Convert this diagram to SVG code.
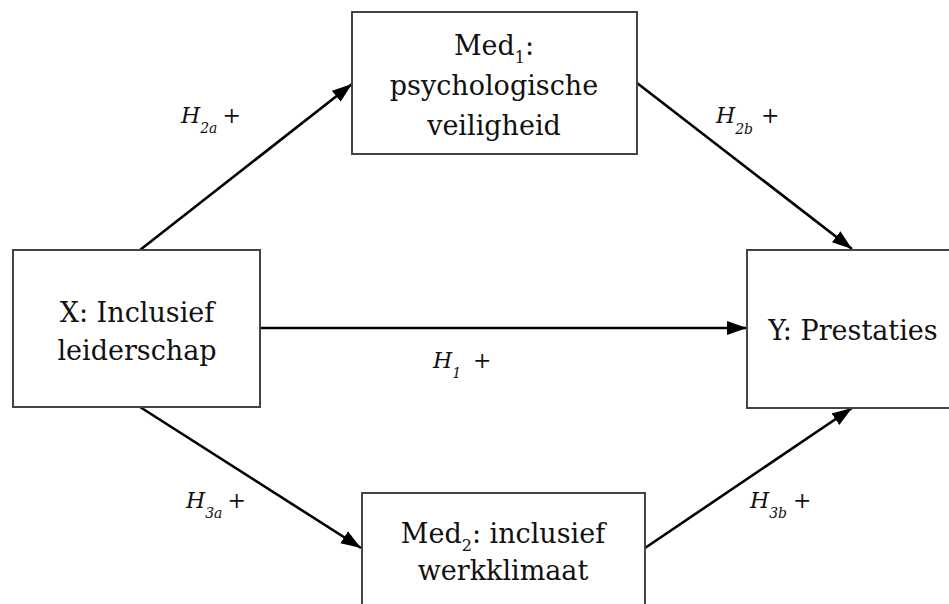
<svg xmlns="http://www.w3.org/2000/svg" width="949" height="604" viewBox="0 0 949 604">
<defs>
<style>
.box{fill:#fff;stroke:#444;stroke-width:2}
text{font-family:'DejaVu Serif',serif}
.t{font-size:27px;fill:#111;text-anchor:middle}
.sub{font-size:16px}
.h{font-size:22px;fill:#111;font-style:italic}
.hs{font-size:14px}
.p{font-style:normal;font-size:22px}
.c{stroke:#000;stroke-width:2.6;fill:none;marker-end:url(#ah)}
</style>
<marker id="ah" markerUnits="userSpaceOnUse" markerWidth="22" markerHeight="16" refX="20" refY="7" orient="auto" viewBox="0 0 22 14">
<path d="M0,0 L20,7 L0,14 Z" fill="#000"/>
</marker>
</defs>
<rect width="949" height="604" fill="#fff"/>
<g id="connectors">
<line class="c" x1="140" y1="250" x2="352" y2="84"/>
<line class="c" x1="637" y1="83" x2="852" y2="249"/>
<line class="c" x1="260" y1="328" x2="747" y2="328"/>
<line class="c" x1="140" y1="407" x2="361" y2="548"/>
<line class="c" x1="645" y1="548" x2="852" y2="408"/>
</g>
<g id="med1">
<rect class="box" x="352" y="12" width="285" height="142"/>
<text class="t" x="494" y="55">Med<tspan class="sub" dy="8">1</tspan><tspan dy="-8">:</tspan></text>
<text class="t" x="494" y="95">psychologische</text>
<text class="t" x="494" y="135">veiligheid</text>
</g>
<g id="x">
<rect class="box" x="13" y="250" width="247" height="157"/>
<text class="t" x="137" y="322">X: Inclusief</text>
<text class="t" x="137" y="360">leiderschap</text>
</g>
<g id="y">
<rect class="box" x="747" y="250" width="215" height="158"/>
<text class="t" x="853" y="340">Y: Prestaties</text>
</g>
<g id="med2">
<rect class="box" x="362" y="493" width="283" height="130"/>
<text class="t" x="503" y="543">Med<tspan class="sub" dy="8">2</tspan><tspan dy="-8">: inclusief</tspan></text>
<text class="t" x="503" y="580">werkklimaat</text>
</g>
<g id="labels">
<text class="h" x="181" y="123">H<tspan class="hs" dy="10">2a</tspan><tspan class="p" dx="5" dy="-10">+</tspan></text>
<text class="h" x="716" y="123">H<tspan class="hs" dy="11">2b</tspan><tspan class="p" dx="8" dy="-11">+</tspan></text>
<text class="h" x="433" y="368">H<tspan class="hs" dy="10">1</tspan><tspan class="p" dx="12" dy="-10">+</tspan></text>
<text class="h" x="186" y="508">H<tspan class="hs" dy="10">3a</tspan><tspan class="p" dx="5" dy="-10">+</tspan></text>
<text class="h" x="750" y="508">H<tspan class="hs" dy="10">3b</tspan><tspan class="p" dx="6" dy="-10">+</tspan></text>
</g>
</svg>
